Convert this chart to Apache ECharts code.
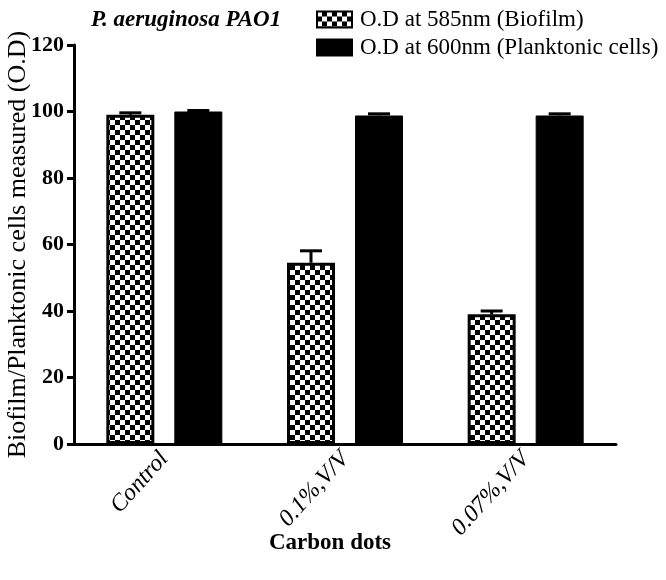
<!DOCTYPE html>
<html>
<head>
<meta charset="utf-8">
<script src="https://cdn.jsdelivr.net/npm/echarts@6/dist/echarts.min.js"></script>
<style>html,body{margin:0;padding:0;background:#fff}#c{width:666px;height:580px}</style>
</head>
<body>
<div id="c"></div>
<script>
const categories = ['Control', '0.1%,V/V', '0.07%,V/V'];
const biofilm = [99, 54.5, 39];
const biofilmErr = [0.6, 3.6, 1.0];
const planktonic = [100, 98.8, 98.8];
const planktonicErr = [0.3, 0.5, 0.5];
const yTicks = [0, 20, 40, 60, 80, 100, 120];
const seriesNames = ['O.D at 585nm (Biofilm)', 'O.D at 600nm (Planktonic cells)'];

const FONT = '"Liberation Serif", "Times New Roman", serif';

// checker pattern
const cv = document.createElement('canvas');
cv.width = 10; cv.height = 10;
const cx = cv.getContext('2d');
cx.fillStyle = '#000'; cx.fillRect(0, 0, 10, 10);
cx.fillStyle = '#fff'; cx.fillRect(0, 0, 5, 5); cx.fillRect(5, 5, 5, 5);
const checker = { image: cv, repeat: 'repeat' };

const BAR_W = 48, GAP = 20;
const OFF = (BAR_W + GAP) / 2;

function errItem(sign) {
  return function (params, api) {
    const top = api.coord([api.value(0), api.value(1) + api.value(2)]);
    const base = api.coord([api.value(0), api.value(1)]);
    const x = top[0] + sign * OFF;
    return {
      type: 'group',
      children: [
        { type: 'line', shape: { x1: x, y1: base[1], x2: x, y2: top[1] }, style: { stroke: '#000', lineWidth: 3 } },
        { type: 'line', shape: { x1: x - 11, y1: top[1], x2: x + 11, y2: top[1] }, style: { stroke: '#000', lineWidth: 3 } }
      ]
    };
  };
}

const chart = echarts.init(document.getElementById('c'), null, { renderer: 'canvas' });
chart.setOption({
  animation: false,
  backgroundColor: '#fff',
  title: {
    text: 'P. aeruginosa PAO1',
    left: 86, top: 4,
    textStyle: { fontFamily: FONT, fontSize: 23, fontWeight: 'bold', fontStyle: 'italic', color: '#000' }
  },
  legend: {
    orient: 'vertical',
    left: 311, top: 3,
    icon: 'rect',
    itemWidth: 35, itemHeight: 16, itemGap: 5,
    data: seriesNames,
    textStyle: { fontFamily: FONT, fontSize: 23, color: '#000', padding: [0, 0, 0, 3] }
  },
  grid: { left: 74, right: 50, top: 45, bottom: 136, containLabel: false, outerBoundsMode: 'none' },
  xAxis: {
    type: 'category',
    data: categories,
    name: 'Carbon dots',
    nameLocation: 'middle',
    nameGap: 88,
    nameMoveOverlap: false,
    nameTextStyle: { fontFamily: FONT, fontSize: 23, fontWeight: 'bold', color: '#000', padding: [0, 30, 0, 0] },
    axisLine: { lineStyle: { color: '#000', width: 3 } },
    axisTick: { alignWithLabel: true, length: 7, lineStyle: { width: 3, color: '#000' } },
    axisLabel: { rotate: 48, margin: 11, fontFamily: FONT, fontSize: 24, fontStyle: 'italic', color: '#000' }
  },
  yAxis: {
    type: 'value',
    min: 0, max: 120, interval: 20,
    name: 'Biofilm/Planktonic cells measured (O.D)',
    nameLocation: 'middle',
    nameGap: 43,
    nameMoveOverlap: false,
    nameTextStyle: { fontFamily: FONT, fontSize: 26, color: '#000' },
    axisLine: { show: true, lineStyle: { color: '#000', width: 3 } },
    axisTick: { show: true, length: 7, lineStyle: { width: 3, color: '#000' } },
    splitLine: { show: false },
    axisLabel: { margin: 10, fontFamily: FONT, fontSize: 22, fontWeight: 'bold', color: '#000',
      formatter: v => yTicks.includes(v) ? String(v) : '' }
  },
  series: [
    {
      name: seriesNames[0], type: 'bar', data: biofilm,
      barWidth: BAR_W, barGap: (GAP / BAR_W * 100) + '%',
      itemStyle: { color: checker, borderColor: '#000', borderWidth: 3 }
    },
    {
      name: seriesNames[1], type: 'bar', data: planktonic,
      barWidth: BAR_W,
      itemStyle: { color: '#000', borderColor: '#000', borderWidth: 1 }
    },
    {
      type: 'custom', renderItem: errItem(-1), z: 5,
      data: biofilm.map((v, i) => [i, v, biofilmErr[i]])
    },
    {
      type: 'custom', renderItem: errItem(1), z: 5,
      data: planktonic.map((v, i) => [i, v, planktonicErr[i]])
    }
  ]
});
</script>
</body>
</html>
